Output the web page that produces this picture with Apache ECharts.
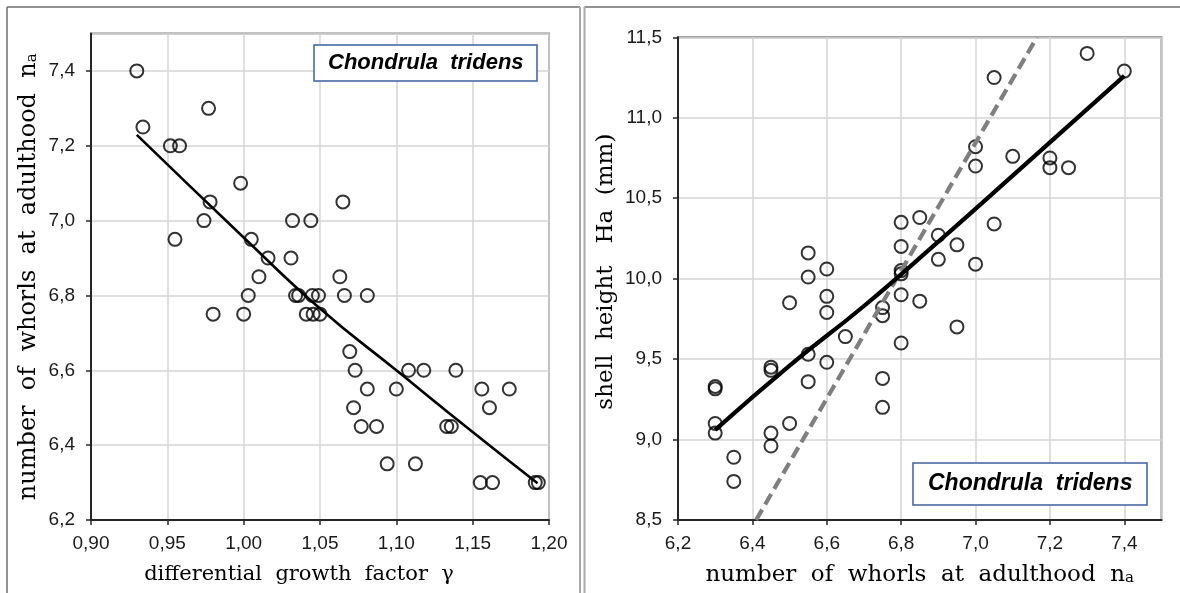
<!DOCTYPE html>
<html>
<head>
<meta charset="utf-8">
<script src="https://cdn.jsdelivr.net/npm/echarts@6/dist/echarts.min.js"></script>
<style>
html,body{margin:0;padding:0;background:#fff;}
#chart{width:1180px;height:593px;}
</style>
</head>
<body>
<div id="chart"></div>
<script>
// ---- Left panel: differential growth factor vs number of whorls ----
const leftX = [0.930,0.934,0.952,0.958,0.977,0.998,0.978,0.974,0.955,1.005,1.016,1.010,1.032,1.044,1.031,1.065,1.063,1.003,1.034,1.036,1.045,1.049,1.066,1.081,0.980,1.000,1.041,1.0455,1.050,1.0695,1.073,1.108,1.118,1.139,1.081,1.100,1.156,1.174,1.072,1.161,1.077,1.087,1.133,1.136,1.094,1.1125,1.155,1.163,1.191,1.193];
const leftY = [7.40,7.25,7.20,7.20,7.30,7.10,7.05,7.00,6.95,6.95,6.90,6.85,7.00,7.00,6.90,7.05,6.85,6.80,6.80,6.80,6.80,6.80,6.80,6.80,6.75,6.75,6.75,6.75,6.75,6.65,6.60,6.60,6.60,6.60,6.55,6.55,6.55,6.55,6.50,6.50,6.45,6.45,6.45,6.45,6.35,6.35,6.30,6.30,6.30,6.30];
const leftTrendX = [0.930,1.000,1.050,1.100,1.150,1.1925];
const leftTrendY = [7.229,6.955,6.765,6.600,6.435,6.298];
const leftXTicks = {min:0.90, max:1.20, interval:0.05};
const leftYTicks = {min:6.2, max:7.5, interval:0.2};

// ---- Right panel: number of whorls vs shell height ----
const rightX = [6.30,6.30,6.30,6.30,6.35,6.35,6.45,6.45,6.45,6.45,6.50,6.50,6.55,6.55,6.55,6.55,6.60,6.60,6.60,6.60,6.65,6.75,6.75,6.75,6.75,6.80,6.80,6.80,6.80,6.80,6.80,6.85,6.85,6.90,6.90,6.95,6.95,7.00,7.00,7.00,7.05,7.05,7.10,7.20,7.20,7.25,7.30,7.40];
const rightY = [9.33,9.315,9.10,9.04,8.89,8.74,9.45,9.43,9.04,8.96,9.85,9.10,10.16,10.01,9.53,9.36,10.06,9.89,9.79,9.48,9.64,9.82,9.77,9.38,9.20,10.35,10.20,10.05,10.03,9.90,9.60,10.38,9.86,10.27,10.12,10.21,9.70,10.82,10.70,10.09,11.25,10.34,10.76,10.75,10.69,10.69,11.40,11.29];
const rightTrendX = [6.30,6.50,6.70,6.90,7.10,7.40];
const rightTrendY = [9.06,9.46,9.83,10.23,10.64,11.26];
const dashX = [6.41,7.165];
const dashY = [8.50,11.50];
const rightXTicks = {min:6.2, max:7.5, interval:0.2};
const rightYTicks = {min:8.5, max:11.5, interval:0.5};

const speciesLabel = 'Chondrula  tridens';

function zip(a,b){ return a.map((v,i)=>[v,b[i]]); }
function comma(d){ return v => v.toFixed(d).replace('.', ','); }

const serif = 'DejaVu Serif';
const sans = 'Liberation Sans';
const axisLineStyle = {color:'#262626', width:2};
const splitLineStyle = {color:'#d4d4d4', width:1.5};
const labelStyle = {fontFamily:sans, fontSize:19, color:'#1a1a1a'};
const subStyle = {fontFamily:serif, fontSize:15, color:'#000', verticalAlign:'bottom', padding:[0,0,1,0]};

function xAxisDef(grid, t, dec, name, nameStyle, pad){
  return {
    type:'value', gridIndex:grid, min:t.min, max:t.max, interval:t.interval,
    axisLine:{show:true, onZero:false, lineStyle:axisLineStyle},
    axisTick:{show:true, length:5, inside:false, lineStyle:{color:'#262626', width:1.5}},
    axisLabel:Object.assign({margin:14, formatter:comma(dec), showMaxLabel:grid===0}, labelStyle),
    splitLine:{show:true, lineStyle:splitLineStyle},
    name:name, nameLocation:'middle', nameGap:44,
    nameTextStyle:Object.assign({fontFamily:serif, color:'#000', padding:pad}, nameStyle)
  };
}
function yAxisDef(grid, t, dec, name, nameStyle, gap){
  return {
    type:'value', gridIndex:grid, min:t.min, max:t.max, interval:t.interval,
    axisLine:{show:true, onZero:false, lineStyle:axisLineStyle},
    axisTick:{show:true, length:5, inside:false, lineStyle:{color:'#262626', width:1.5}},
    axisLabel:Object.assign({margin:16, formatter:comma(dec), showMaxLabel:grid===1}, labelStyle),
    splitLine:{show:true, lineStyle:splitLineStyle},
    name:name, nameLocation:'middle', nameGap:gap, nameRotate:90,
    nameTextStyle:Object.assign({fontFamily:serif, color:'#000'}, nameStyle)
  };
}

const circleStyle = {color:'rgba(0,0,0,0)', borderColor:'#000', borderWidth:2};

const option = {
  animation:false,
  backgroundColor:'#fff',
  title:[
    {text:speciesLabel, left:314, top:45, padding:[6,14,6,14],
     borderColor:'#3f5f9f', borderWidth:1.5, backgroundColor:'#fff',
     textStyle:{fontFamily:sans, fontSize:22, fontWeight:'bold', fontStyle:'italic', color:'#000', lineHeight:24}},
    {text:speciesLabel, left:913, top:463, padding:[8,15,8,15],
     borderColor:'#3f5f9f', borderWidth:1.5, backgroundColor:'#fff',
     textStyle:{fontFamily:sans, fontSize:23, fontWeight:'bold', fontStyle:'italic', color:'#000', lineHeight:26}}
  ],
  grid:[
    {left:91, top:33.5, width:458, height:486.5, show:true, borderColor:'#868686', borderWidth:2, backgroundColor:'#fff'},
    {left:678, top:37.3, width:483.5, height:482.7, show:true, borderColor:'#868686', borderWidth:2, backgroundColor:'#fff'}
  ],
  xAxis:[
    xAxisDef(0, leftXTicks, 2, 'differential  growth  factor  γ', {fontSize:21}, [0,42,0,0]),
    xAxisDef(1, rightXTicks, 1, 'number  of  whorls  at  adulthood  n{s|a}', {fontSize:23, rich:{s:subStyle}}, 0)
  ],
  yAxis:[
    yAxisDef(0, leftYTicks, 1, 'number  of  whorls  at  adulthood  n{s|a}', {fontSize:24, rich:{s:subStyle}}, 50),
    yAxisDef(1, rightYTicks, 1, 'shell  height   Ha  (mm)', {fontSize:23, padding:[0,0,0,14]}, 60)
  ],
  series:[
    {type:'scatter', xAxisIndex:0, yAxisIndex:0, data:zip(leftX,leftY), symbol:'circle', symbolSize:13, itemStyle:circleStyle, z:3},
    {type:'line', xAxisIndex:0, yAxisIndex:0, data:zip(leftTrendX,leftTrendY), smooth:true, symbol:'none', lineStyle:{color:'#000', width:2.6}, z:4},
    {type:'scatter', xAxisIndex:1, yAxisIndex:1, data:zip(rightX,rightY), symbol:'circle', symbolSize:13, itemStyle:circleStyle, z:3},
    {type:'line', xAxisIndex:1, yAxisIndex:1, data:zip(dashX,dashY), symbol:'none', lineStyle:{color:'#7f7f7f', width:4.2, type:[12,6]}, z:4},
    {type:'line', xAxisIndex:1, yAxisIndex:1, data:zip(rightTrendX,rightTrendY), smooth:true, symbol:'none', lineStyle:{color:'#000', width:4.2}, z:5}
  ],
  graphic:[
    {type:'line', shape:{x1:7, y1:7, x2:580, y2:7}, style:{stroke:'#6e6e6e', lineWidth:1.5}},
    {type:'line', shape:{x1:7, y1:7, x2:7, y2:593}, style:{stroke:'#6e6e6e', lineWidth:1.5}},
    {type:'line', shape:{x1:580, y1:7, x2:580, y2:593}, style:{stroke:'#a8a8a8', lineWidth:2}},
    {type:'line', shape:{x1:584.5, y1:7, x2:1180, y2:7}, style:{stroke:'#6e6e6e', lineWidth:1.5}},
    {type:'line', shape:{x1:584.5, y1:7, x2:584.5, y2:593}, style:{stroke:'#a8a8a8', lineWidth:2}}
  ]
};

const chart = echarts.init(document.getElementById('chart'), null, {renderer:'canvas'});
chart.setOption(option);
</script>
</body>
</html>
